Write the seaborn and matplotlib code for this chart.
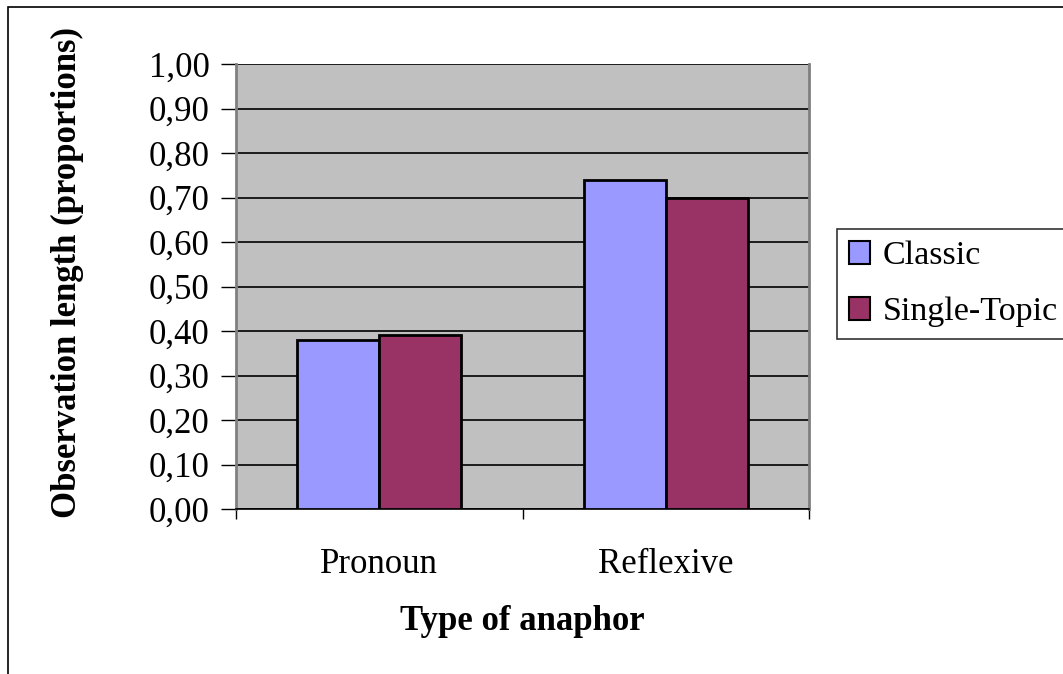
import matplotlib
matplotlib.use("Agg")
import matplotlib.pyplot as plt
import seaborn as sns
import pandas as pd
from matplotlib.patches import Rectangle, Patch
from matplotlib.ticker import FixedLocator

categories = ["Pronoun", "Reflexive"]
series_names = ["Classic", "Single-Topic"]
classic = [0.38, 0.74]
single_topic = [0.39, 0.70]
y_ticks = [0.0, 0.1, 0.2, 0.3, 0.4, 0.5, 0.6, 0.7, 0.8, 0.9, 1.0]
colors = ["#9999FF", "#993366"]

df = pd.DataFrame({
    "category": categories * 2,
    "series": [series_names[0]] * 2 + [series_names[1]] * 2,
    "value": classic + single_topic,
})

sns.set_style("white")
plt.rcParams["font.family"] = ["Liberation Serif", "DejaVu Serif"]
plt.rcParams["text.color"] = "black"
plt.rcParams["axes.labelcolor"] = "black"
plt.rcParams["xtick.color"] = "black"
plt.rcParams["ytick.color"] = "black"

FS = 25
W, H = 1063, 674
fig = plt.figure(figsize=(W / 100, H / 100), dpi=100)
ax = fig.add_axes([236 / W, 1 - 509 / H, (809 - 236) / W, (509 - 64) / H])
ax.set_facecolor("#C0C0C0")

sns.barplot(data=df, x="category", y="value", hue="series", order=categories,
            hue_order=series_names, palette=colors, saturation=1, width=0.573,
            edgecolor="black", linewidth=2, ax=ax, legend=False, zorder=3)

ax.set_ylim(0, 1.0)
ax.set_xlim(-0.5, 1.5)
ax.set_yticks(y_ticks)
ax.set_yticklabels([f"{v:.2f}".replace(".", ",") for v in y_ticks], fontsize=FS)
ax.yaxis.grid(True, color="black", linewidth=1.2, zorder=1)
ax.set_axisbelow(True)

ax.xaxis.set_major_locator(FixedLocator([-0.5, 0.5, 1.5]))
ax.set_xticklabels(["", "", ""])
ax.xaxis.set_minor_locator(FixedLocator([0, 1]))
ax.set_xticklabels(categories, minor=True, fontsize=FS)
ax.tick_params(axis="x", which="major", direction="out", length=7, width=1, color="black", bottom=True)
ax.tick_params(axis="x", which="minor", length=0, pad=28, bottom=True)
ax.tick_params(axis="y", direction="out", length=11, width=1, color="black", pad=8, left=True)

for s in ["left", "right"]:
    ax.spines[s].set_color("#808080")
    ax.spines[s].set_linewidth(2)
ax.spines["bottom"].set_color("black")
ax.spines["bottom"].set_linewidth(1.2)
ax.spines["top"].set_visible(False)

ax.set_xlabel("Type of anaphor", fontsize=FS, fontweight="bold", labelpad=17)
ax.set_ylabel("Observation length (proportions)", fontsize=FS, fontweight="bold")
ax.yaxis.set_label_coords((84 - 236) / 573, (509 - 272) / 445)

handles = [Patch(facecolor=c, edgecolor="black", linewidth=1.5) for c in colors]
leg = fig.legend(handles, series_names, loc="upper left",
                 bbox_to_anchor=(837 / W, 1 - 229 / H), fontsize=24.5,
                 frameon=True, fancybox=False, handlelength=0.63, handleheight=0.63,
                 handletextpad=0.35, borderpad=0.35, labelspacing=0.75, borderaxespad=0)
leg.get_frame().set_edgecolor("black")
leg.get_frame().set_linewidth(1.2)

fig.patches.append(Rectangle((8 / W, -0.1), 2, 1.1 - 7 / H, transform=fig.transFigure,
                             fill=False, edgecolor="black", linewidth=1.2))

fig.savefig("out.png", dpi=100)
